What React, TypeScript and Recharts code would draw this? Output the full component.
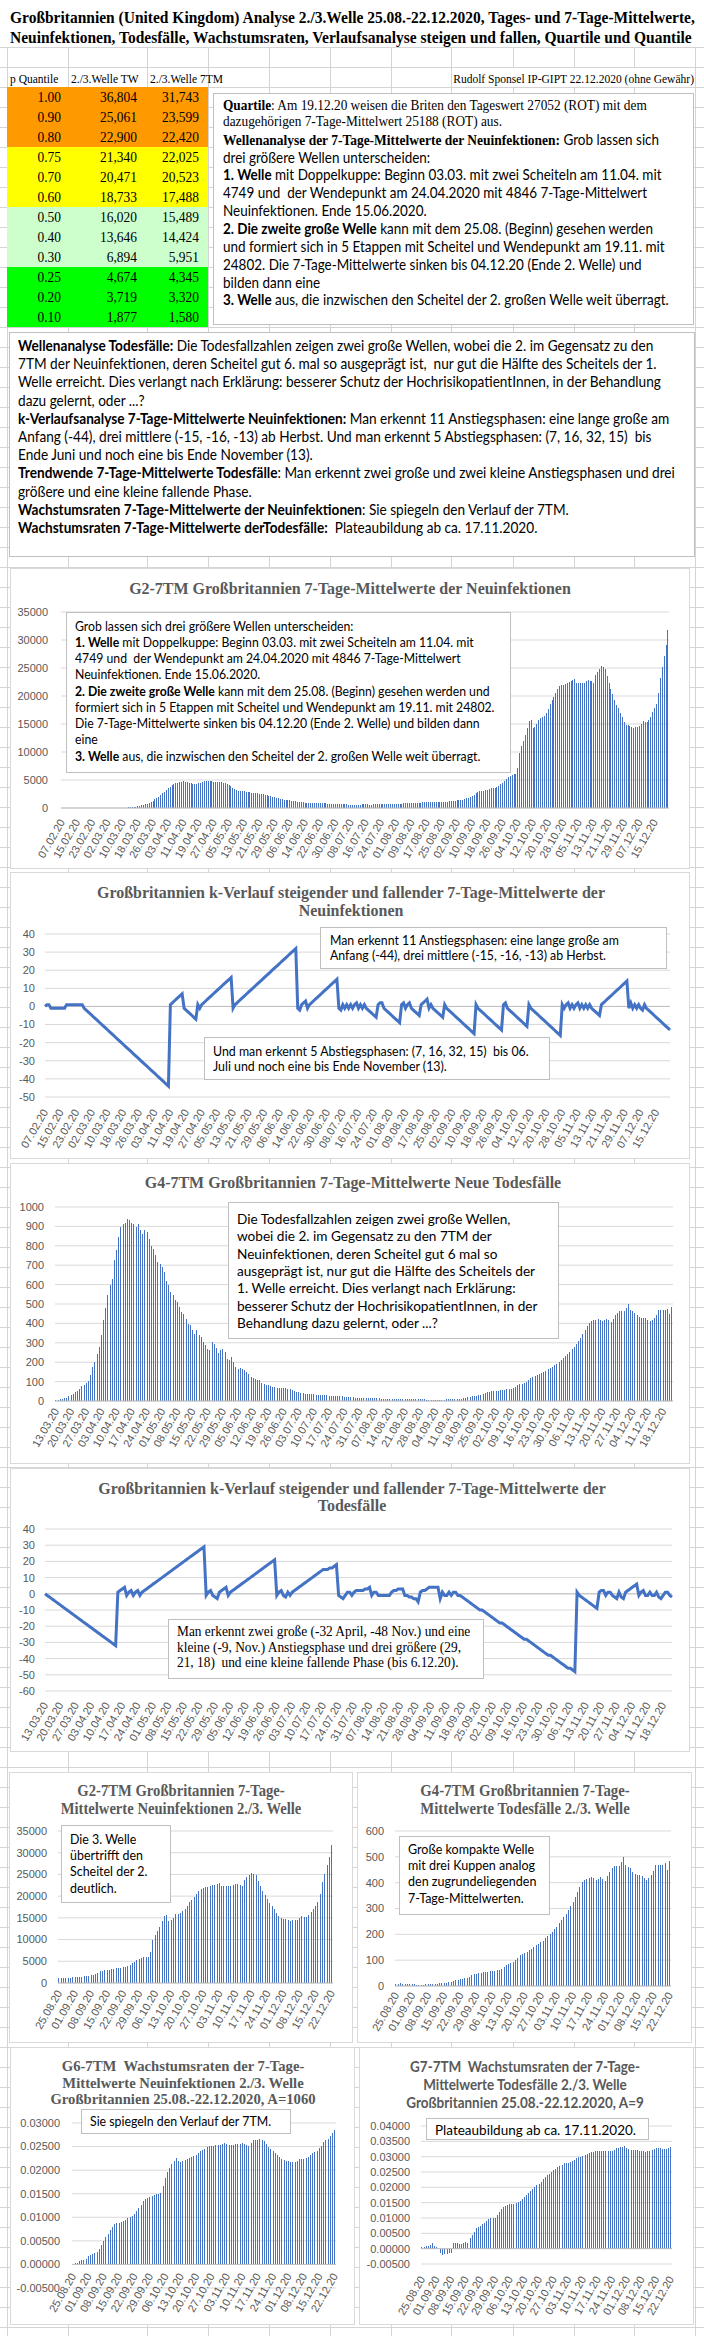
import React from 'react';
import { BarChart, Bar, LineChart, Line, XAxis, YAxis, CartesianGrid, ReferenceLine } from 'recharts';

const SANS = 'Lato, "Liberation Sans", Arial, sans-serif';
const SERIF = '"Liberation Serif", "Times New Roman", serif';
const AXF = '"Liberation Sans", Arial, sans-serif';
const BLUE = '#4472C4';
const GRAYTXT = '#595959';
const GRIDC = '#d9d9d9';

// ---------------- data ----------------
const P_LEVELS = ['1.00', '0.90', '0.80', '0.75', '0.70', '0.60', '0.50', '0.40', '0.30', '0.25', '0.20', '0.10'];
const Q_TW = [36804, 25061, 22900, 21340, 20471, 18733, 16020, 13646, 6894, 4674, 3719, 1877];
const Q_7TM = [31743, 23599, 22420, 22025, 20523, 17488, 15489, 14424, 5951, 4345, 3320, 1580];
const ROW_COLORS = ['#FF9900', '#FF9900', '#FF9900', '#FFFF00', '#FFFF00', '#FFFF00', '#CCFFCC', '#CCFFCC', '#CCFFCC', '#00FF00', '#00FF00', '#00FF00'];

// 7-day means of new infections, 07.02.2020 - 22.12.2020
const CASES7 = [
  0, 0, 0, 0, 0, 1, 1, 1, 1, 1, 1, 1, 1, 1, 1, 1, 1, 1, 1, 2, 2, 3, 4,
  6, 8, 11, 14, 20, 25, 30, 38, 45, 55, 68, 85, 110, 150, 180, 210, 260, 320, 390, 480, 560, 640, 730, 850, 1010, 1250, 1520, 1800, 2050, 2300, 2600,
  2900, 3250, 3550, 3800, 4050, 4250, 4400, 4550, 4650, 4700, 4749, 4700, 4650, 4550, 4450, 4350, 4300, 4350, 4450, 4550, 4650, 4750, 4800, 4846, 4800, 4780, 4700, 4650, 4620, 4600,
  4600, 4550, 4450, 4250, 4050, 3850, 3600, 3400, 3200, 3100, 3050, 3000, 2950, 2900, 2850, 2800, 2750, 2700, 2650, 2600, 2550, 2500, 2450, 2350, 2300, 2200, 2100, 2000, 1900, 1800, 1700,
  1600, 1550, 1500, 1450, 1400, 1350, 1300, 1250, 1200, 1150, 1100, 1050, 1000, 980, 960, 940, 920, 900, 880, 860, 850, 840, 830, 820, 810, 800, 790, 780, 770, 760,
  720, 700, 680, 660, 640, 630, 620, 610, 600, 600, 600, 610, 620, 630, 640, 640, 630, 620, 620, 630, 640, 650, 660, 670, 680, 690, 700, 710, 720, 740, 760,
  780, 790, 800, 800, 810, 830, 850, 870, 880, 890, 900, 920, 950, 980, 1000, 1020, 1040, 1050, 1060, 1070, 1060, 1050, 1040, 1030,
  1050, 1060, 1100, 1150, 1200, 1250, 1280,
  1300, 1350, 1400, 1450, 1500, 1600, 1700, 1850, 1950, 2150, 2400, 2650, 2850, 2950, 3050, 3100, 3200, 3300, 3400, 3500, 3550, 3600, 3700, 3900, 4200, 4500, 4800, 5200, 5500, 5700,
  5900, 6000, 6100, 7200, 9800, 11000, 12000, 13000, 14200, 15500, 15700, 14300, 14500, 15000, 15800, 16000, 16200, 16500, 17000, 17700, 18600, 19200, 19800, 20500, 21200, 21700, 21900, 22000, 22100, 22300, 22500,
  22600, 22900, 23100, 22400, 22300, 22400, 22300, 22400, 22600, 22800, 22700, 22600, 22400, 23800, 24300, 24900, 25300, 25200, 24802, 23600, 22300, 21200, 20300, 19300, 18400, 17800, 17000, 16200, 15400, 14900,
  14800, 14700, 14500, 14300, 14400, 14400, 14600, 15000, 15500, 15300, 15300, 15700, 16300, 17100, 17800, 18600, 20500, 23300, 25188, 27200, 29100, 31743,
];

// k-course of the 7-day means of new infections
const K_CASES = [
  0, 1, 1, -1, -1, -1, -1, -1, -1, -1, -1, 1, 1, 1, 1, 1, 1, 1, 1, 1,
  -1, -2, -3, -4, -5, -6, -7, -8, -9, -10, -11, -12, -13, -14, -15, -16, -17, -18, -19, -20, -21, -22, -23, -24, -25, -26, -27, -28, -29, -30, -31, -32, -33, -34, -35, -36, -37, -38, -39, -40, -41, -42, -43, -44,
  1, 2, 3, 4, 5, 6, 7,
  -1, -2, -3, -4, -5, -6, -7,
  1, -1,
  1, 2, 3, 4, 5, 6, 7, 8, 9, 10, 11, 12, 13, 14, 15, 16,
  -1,
  1, 2, 3, 4, 5, 6, 7, 8, 9, 10, 11, 12, 13, 14, 15, 16, 17, 18, 19, 20, 21, 22, 23, 24, 25, 26, 27, 28, 29, 30, 31, 32,
  -1, -2, 1, 2, 3, -1,
  1, 2, 3, 4, 5, 6, 7, 8, 9, 10, 11, 12, 13, 14, 15,
  -1, -2, 1, -1, 1, -1, 1, -1, 1, 2, -1, 1, -1, 1,
  -1, -2, -3, -4, -5, -6,
  1, 2, 2,
  -1, -2, -3, -4, -5, -6, -7, -8, -9,
  1, 2, -1, 1, 2, -1, -2, -3, -4, -5,
  1, 2, 3, 4,
  -1, 1, -1, -2, -3, -4, -5, -6,
  1,
  -1, -2, -3, -4, -5, -6, -7, -8, -9, -10, -11, -12, -13, -14, -15,
  1,
  -1, -2, -3, -4, -5, -6, -7, -8, -9, -10, -11, -12, -13,
  1, 2,
  -1, -2, -3, -4, -5, -6, -7, -8, -9, -10, -11,
  1,
  -1, -2, -3, -4, -5, -6, -7, -8, -9, -10, -11, -12, -13, -14, -15, -16,
  1, -1, 1, 2, -1, 1, -1, 1, 2, -1, 1, -1, 1, -1, 1, -1,
  -2, -3, -4, -5,
  1, 2, 3, 4, 5, 6, 7, 8, 9, 10, 11, 12, 13, 14,
  -1, 2, -1, 1, -1, 1, -1, -2, 1,
  -1, -2, -3, -4, -5, -6, -7, -8, -9, -10, -11, -12, -13,
];

// 7-day means of deaths, 13.03.2020 - 22.12.2020
const DEATHS7 = [
  5, 7, 8, 9, 14, 18, 25, 32, 38, 45, 52, 62, 75, 84, 95, 103, 132, 175, 200, 244, 278, 342, 416, 481, 545, 596, 627, 725, 776, 845, 897, 914, 920,
  940, 935, 917, 914, 897, 910, 880, 862, 880, 871,
  837, 800, 785, 751, 716, 708, 691, 665, 618, 596,
  562, 545, 519, 510, 484, 457, 450, 424, 398, 390,
  368, 347, 364, 338, 330, 304, 287, 270, 261, 304,
  296, 272, 247, 265, 270, 253, 218, 210, 227, 201,
  175, 167, 168, 167, 160, 150, 137, 124, 118, 112,
  110, 107, 95, 86, 84, 81, 76, 72, 70, 69,
  69, 68, 67, 65, 64, 60, 55, 50, 48, 45,
  43, 40, 38, 37, 36, 35, 34, 33, 32, 31,
  31, 30, 29, 28, 27, 26, 25, 25, 24, 24,
  22, 21, 20, 20, 19, 18, 17, 17,
  16, 15, 15, 14, 14, 14, 13, 13, 13, 12, 12, 12, 12, 11, 11, 11, 11, 11, 10, 10, 10, 10, 10, 10,
  9, 9, 10, 9, 9, 8, 7, 6, 6,
  5, 5, 5, 5, 6,
  7, 8, 9, 9, 9, 10, 10, 11, 12,
  15, 17, 19, 22, 25, 27, 28, 30,
  31, 34, 41, 45, 48, 50, 52, 53, 54, 55,
  57, 58, 60, 61, 63, 66, 74, 80, 86, 90,
  93, 100, 110, 119, 124, 128, 132, 140, 145, 151,
  157, 164, 170, 176, 184, 192, 203, 210, 222, 230,
  242, 255, 268, 280, 294, 310, 326, 345, 365, 385,
  401, 410, 416, 420, 423, 418, 410, 415, 423, 415,
  406, 425, 442, 455, 465, 466, 465, 480, 498, 470,
  462, 455, 442, 435, 429, 428, 427, 420, 410, 420,
  429, 445, 468, 468, 468, 470, 475, 449, 485,
];

// k-course of the 7-day means of deaths
const K_DEATHS = [
  0, -1, -2, -3, -4, -5, -6, -7, -8, -9, -10, -11, -12, -13, -14, -15, -16, -17, -18, -19, -20, -21, -22, -23, -24, -25, -26, -27, -28, -29, -30, -31, -32,
  1, 2, 3, 4, -1, 1, 2, -1, 1, 2, -1,
  1, 2, 3, 4, 5, 6, 7, 8, 9, 10, 11, 12, 13, 14, 15, 16, 17, 18, 19, 20, 21, 22, 23, 24, 25, 26, 27, 28, 29,
  -1, 1, 2, -1, -2, -3, 1, 2, 3, 4, -1,
  1, 2, 3, 4, 5, 6, 7, 8, 9, 10, 11, 12, 13, 14, 15, 16, 17, 18, 19, 20, 21,
  -1, 1, 2, -1, -2, 1, -1,
  1, 2, 3, 4, 5, 6, 7, 8, 9, 10, 11, 12, 13, 14, 15, 15, 15, 16, 16, 17, 18,
  -1, -2, -3, -1, 1, 1, -1, 1, 2, 2, 2, 2, 3, 3, 4, -1, 1, 1, -1, -1, -1, -1, -1, -1, 1, 2, 2, 3, 3, 3, -1, -1, -2, -2, -3, -3, -5, 1, 2, 2, 3, 4, 4, 4, 4, 4, -3, 1, -1, -1, 1, -1, 1, 1, -1,
  -1, -2, -3, -4, -5, -6, -7, -8, -9, -10, -10, -11, -12, -13, -14, -15, -16, -17, -18, -18, -19, -20, -21, -22, -23, -24, -25, -26, -27, -28, -28, -29, -30, -31, -32, -33, -34, -35, -36, -37, -38, -38, -39, -40, -41, -42, -43, -44, -45, -46, -46, -47, -48,
  1,
  -1, -2, -3, -4, -5, -6, -7, -8, -9,
  1, 2, 2, -1, 1, 1, -1, -2, -3, 1, -2, -3, 1, 2, 3, 4, 5, 6, -1, 1, 2, -1, -1, 1, -1, -1, 1, -2, -3, -1, 1, 1, -1, -2,
];

// growth rates 25.08.2020 - 22.12.2020
const GROWTH_CASES = [
  0.0001, 0.0003, 0.0004, 0.0008, 0.0009, 0.001, 0.0012, 0.0018, 0.002, 0.0022,
  0.0025, 0.0027, 0.0033, 0.0042, 0.005, 0.0058, 0.0065, 0.0072, 0.0079, 0.0085,
  0.0088, 0.0088, 0.0089, 0.0093, 0.0095, 0.0098, 0.01, 0.0103, 0.0107, 0.0114,
  0.012, 0.0126, 0.0134, 0.0138, 0.014, 0.0142, 0.0146, 0.0147, 0.0149, 0.015,
  0.0152, 0.0167, 0.0184, 0.0196, 0.0205, 0.0212, 0.022, 0.0225, 0.0219, 0.0218,
  0.0219, 0.0222, 0.0224, 0.0226, 0.0228, 0.023, 0.0233, 0.0237, 0.024, 0.0243,
  0.0245, 0.0249, 0.0251, 0.0252, 0.0252, 0.0253, 0.0254, 0.0254, 0.0255, 0.0257,
  0.0256, 0.0254, 0.0254, 0.0254, 0.0255, 0.0255, 0.0256, 0.0257, 0.0256, 0.0254,
  0.0252, 0.0258, 0.0263, 0.0264, 0.0265, 0.0266, 0.0265, 0.0262, 0.0256, 0.025,
  0.0245, 0.0241, 0.0237, 0.0232, 0.0228, 0.0224, 0.0221, 0.022, 0.0219, 0.0218,
  0.0217, 0.0218, 0.022, 0.0223, 0.0224, 0.0224, 0.0226, 0.0228, 0.0232, 0.0236,
  0.0238, 0.024, 0.0248, 0.0252, 0.0259, 0.0264, 0.0266, 0.0273, 0.0279, 0.0285,
];
const GROWTH_DEATHS = [
  0.0004, 0.0007, 0.0008, 0.0009, 0.0012, 0.0017, 0.0009, 0.0007, -0.0002, -0.0015,
  -0.0021, -0.0017, -0.0016, -0.0015, -0.0013, 0.002, 0.002, 0.0017, 0.0016, 0.0015,
  0.002, 0.0023, 0.0017, 0.0034, 0.0045, 0.0055, 0.0066, 0.0072, 0.0075, 0.0079,
  0.0085, 0.009, 0.0096, 0.01, 0.0101, 0.0101, 0.011, 0.0121, 0.013, 0.0135,
  0.014, 0.0143, 0.0146, 0.0146, 0.0146, 0.0148, 0.0152, 0.0156, 0.0161, 0.0168,
  0.0175, 0.0182, 0.0189, 0.0196, 0.0202, 0.0207, 0.0211, 0.0218, 0.0228, 0.0235,
  0.024, 0.0244, 0.0249, 0.0255, 0.026, 0.0265, 0.027, 0.0274, 0.028, 0.028,
  0.028, 0.0283, 0.0287, 0.029, 0.0295, 0.0298, 0.03, 0.0302, 0.0305, 0.0309,
  0.0311, 0.0314, 0.0316, 0.0318, 0.0318, 0.0319, 0.0318, 0.0318, 0.0317, 0.0318,
  0.0318, 0.032, 0.0323, 0.0327, 0.0328, 0.033, 0.0333, 0.0335, 0.0328, 0.0324,
  0.0323, 0.0322, 0.0322, 0.0321, 0.032, 0.032, 0.0318, 0.0316, 0.0318, 0.032,
  0.0322, 0.0325, 0.0327, 0.0327, 0.0327, 0.0326, 0.0326, 0.0325, 0.0327, 0.033,
];

const TICKS_FULL = ['07.02.20', '15.02.20', '23.02.20', '02.03.20', '10.03.20', '18.03.20', '26.03.20', '03.04.20', '11.04.20', '19.04.20', '27.04.20', '05.05.20', '13.05.20', '21.05.20', '29.05.20', '06.06.20', '14.06.20', '22.06.20', '30.06.20', '08.07.20', '16.07.20', '24.07.20', '01.08.20', '09.08.20', '17.08.20', '25.08.20', '02.09.20', '10.09.20', '18.09.20', '26.09.20', '04.10.20', '12.10.20', '20.10.20', '28.10.20', '05.11.20', '13.11.20', '21.11.20', '29.11.20', '07.12.20', '15.12.20'];
const TICKS_DEATH = ['13.03.20', '20.03.20', '27.03.20', '03.04.20', '10.04.20', '17.04.20', '24.04.20', '01.05.20', '08.05.20', '15.05.20', '22.05.20', '29.05.20', '05.06.20', '12.06.20', '19.06.20', '26.06.20', '03.07.20', '10.07.20', '17.07.20', '24.07.20', '31.07.20', '07.08.20', '14.08.20', '21.08.20', '28.08.20', '04.09.20', '11.09.20', '18.09.20', '25.09.20', '02.10.20', '09.10.20', '16.10.20', '23.10.20', '30.10.20', '06.11.20', '13.11.20', '20.11.20', '27.11.20', '04.12.20', '11.12.20', '18.12.20'];
const TICKS_WAVE = ['25.08.20', '01.09.20', '08.09.20', '15.09.20', '22.09.20', '29.09.20', '06.10.20', '13.10.20', '20.10.20', '27.10.20', '03.11.20', '10.11.20', '17.11.20', '24.11.20', '01.12.20', '08.12.20', '15.12.20', '22.12.20'];

const Y_CASES = [0, 5000, 10000, 15000, 20000, 25000, 30000, 35000];
const Y_KC = [-50, -40, -30, -20, -10, 0, 10, 20, 30, 40];
const Y_DEATHS = [0, 100, 200, 300, 400, 500, 600, 700, 800, 900, 1000];
const Y_KD = [-60, -50, -40, -30, -20, -10, 0, 10, 20, 30, 40];
const Y_DEATHS_W = [0, 100, 200, 300, 400, 500, 600];
const Y_GC = [-0.005, 0, 0.005, 0.01, 0.015, 0.02, 0.025, 0.03];
const Y_GD = [-0.005, 0, 0.005, 0.01, 0.015, 0.02, 0.025, 0.03, 0.035, 0.04];

function dayLabels(y: number, m: number, d: number, n: number): string[] {
  const out: string[] = [];
  for (let i = 0; i < n; i++) {
    const dt = new Date(Date.UTC(y, m - 1, d + i));
    const dd = String(dt.getUTCDate()).padStart(2, '0');
    const mm = String(dt.getUTCMonth() + 1).padStart(2, '0');
    out.push(`${dd}.${mm}.${String(dt.getUTCFullYear()).slice(2)}`);
  }
  return out;
}
const CASE_DATES = dayLabels(2020, 2, 7, 320);
const DEATH_DATES = dayLabels(2020, 3, 13, 285);
const WAVE_DATES = dayLabels(2020, 8, 25, 120);

const caseData = CASE_DATES.map((d, i) => ({ d, v: CASES7[i], k: K_CASES[i] }));
const deathData = DEATH_DATES.map((d, i) => ({ d, v: DEATHS7[i], k: K_DEATHS[i] }));
const waveCases = WAVE_DATES.map((d, i) => ({ d, v: CASES7[200 + i], g: GROWTH_CASES[i] }));
const waveDeaths = WAVE_DATES.map((d, i) => ({ d, v: DEATHS7[165 + i], g: GROWTH_DEATHS[i] }));

// ---------------- helpers ----------------
let CTX: CanvasRenderingContext2D | null = null;
function fit(ref: string, size: number, family: string, weight: string, target: number): number {
  if (typeof document === 'undefined') return 1;
  if (!CTX) CTX = document.createElement('canvas').getContext('2d');
  if (!CTX) return 1;
  CTX.font = `${weight} ${size}px ${family}`;
  const w = CTX.measureText(ref).width;
  return w > 0 ? target / w : 1;
}

const fmt = (n: number) => String(n).replace(/\B(?=(\d{3})+(?!\d))/g, ',');

const Txt = ({ x, y, size, family, weight = 'normal', scale = 1, align = 'left', color = '#000', children }: any) => {
  const h = Math.round(size * 1.3);
  const w = 1400;
  const left = align === 'left' ? x : align === 'center' ? x - w / 2 : x - w;
  const origin = align === 'left' ? 'left center' : align === 'center' ? 'center center' : 'right center';
  return (
    <div style={{ position: 'absolute', left, top: y - h / 2, width: w, height: h, lineHeight: `${h}px`, fontSize: size, fontFamily: family, fontWeight: weight, color, whiteSpace: 'pre', textAlign: align, transform: `scaleX(${scale})`, transformOrigin: origin }}>
      {children}
    </div>
  );
};

const Lines = ({ x, ys, lines, ...rest }: any) => (
  <>
    {lines.map((ln: any, i: number) => (
      <Txt key={i} x={x} y={ys[i]} {...rest}>{ln}</Txt>
    ))}
  </>
);

const Frame = ({ x, y, w, h, border = '#d9d9d9', children }: any) => (
  <div style={{ position: 'absolute', left: x, top: y, width: w, height: h, boxSizing: 'border-box', border: `1px solid ${border}`, background: '#fff' }}>
    {children ? <div style={{ position: 'absolute', left: -1, top: -1 }}>{children}</div> : null}
  </div>
);

const RotTick = (props: any) => {
  const { x, y, payload, shift = 0 } = props;
  const yy = y + shift;
  return (
    <text x={x} y={yy} transform={`rotate(-60 ${x} ${yy})`} textAnchor="end" dominantBaseline="central" fontSize={11} fontFamily={AXF} fill={GRAYTXT}>
      {payload.value}
    </text>
  );
};

const CrispBar = (p: any) => {
  const { x, y, width, height } = p;
  if (x == null || y == null || !height) return <g />;
  const yy = height < 0 ? y + height : y;
  return <rect x={x} y={yy} width={Math.max(width, 1)} height={Math.abs(height)} fill={BLUE} shapeRendering="crispEdges" />;
};
const barShape = (p: any) => <CrispBar {...p} />;

const yTick = { fontSize: 11, fill: GRAYTXT, fontFamily: AXF };
const range = (a: number, n: number, s: number) => Array.from({ length: n }, (_, i) => a + i * s);

const B = ({ children }: any) => <b>{children}</b>;

// ---------------- app ----------------
export default function App() {
  const gridX = [7, 68, 147, 208, 269, 330, 391, 451, 513, 574, 634, 695];
  const gridY: number[] = [];
  for (let y = 47; y < 2336; y += 20) gridY.push(y);

  const title1 = 'Großbritannien (United Kingdom) Analyse 2./3.Welle 25.08.-22.12.2020, Tages- und 7-Tage-Mittelwerte,';
  const title2 = 'Neuinfektionen, Todesfälle, Wachstumsraten, Verlaufsanalyse steigen und fallen, Quartile und Quantile';
  const sTitle = fit(title1, 16, SERIF, 'bold', 686);
  const sHead = fit('Rudolf Sponsel IP-GIPT 22.12.2020 (ohne Gewähr)', 13, SERIF, 'normal', 241);
  const sVal = fit('36,804', 15, SERIF, 'normal', 37);

  const sQSerif = fit('dazugehörigen 7-Tage-Mittelwert 25188 (ROT) aus.', 14, SERIF, 'normal', 279);
  const sQSans = fit('4749 und  der Wendepunkt am 24.04.2020 mit 4846 7-Tage-Mittelwert', 14.67, SANS, 'normal', 424.5);
  const sS2 = fit('Welle erreicht. Dies verlangt nach Erklärung: besserer Schutz der HochrisikopatientInnen, in der Behandlung', 14.67, SANS, 'normal', 644);
  const sG2box = fit('4749 und  der Wendepunkt am 24.04.2020 mit 4846 7-Tage-Mittelwert', 13.3, SANS, 'normal', 386);
  const sK1 = fit('Anfang (-44), drei mittlere (-15, -16, -13) ab Herbst.', 13, SANS, 'normal', 276);
  const sK2 = fit('Juli und noch eine bis Ende November (13).', 13, SANS, 'normal', 234);
  const sG4box = fit('Die Todesfallzahlen zeigen zwei große Wellen,', 14.3, SANS, 'normal', 274);
  const sKD = fit('Man erkennt zwei große (-32 April, -48 Nov.) und eine', 14, SERIF, 'normal', 294);
  const sSG2 = fit('übertrifft den', 13.4, SANS, 'normal', 73);
  const sSG4 = fit('mit drei Kuppen analog', 13.4, SANS, 'normal', 127);
  const sG6box = fit('Sie spiegeln den Verlauf der 7TM.', 13.4, SANS, 'normal', 182);
  const sG7box = fit('Plateaubildung ab ca. 17.11.2020.', 14, SANS, 'normal', 201);

  const tG2 = 'G2-7TM Großbritannien 7-Tage-Mittelwerte der Neuinfektionen';
  const tK1a = 'Großbritannien k-Verlauf steigender und fallender 7-Tage-Mittelwerte der';
  const tG4 = 'G4-7TM Großbritannien 7-Tage-Mittelwerte Neue Todesfälle';
  const sTG2 = fit(tG2, 16, SERIF, 'bold', 442);
  const sTK1 = fit(tK1a, 16, SERIF, 'bold', 508.6);
  const sTG4 = fit(tG4, 16, SERIF, 'bold', 416.7);
  const sTK2 = fit(tK1a, 16, SERIF, 'bold', 508);
  const sTSG2 = fit('Mittelwerte Neuinfektionen 2./3. Welle', 16, SERIF, 'bold', 241);
  const sTSG4 = fit('Mittelwerte Todesfälle 2./3. Welle', 16, SERIF, 'bold', 210);
  const sTG6 = fit('Großbritannien 25.08.-22.12.2020, A=1060', 14.5, SERIF, 'bold', 266);
  const sTG7 = fit('Großbritannien 25.08.-22.12.2020, A=9', 15, SANS, 'bold', 238);

  const serifB = (t: string) => <span style={{ fontFamily: SERIF, fontWeight: 'bold' }}>{t}</span>;

  return (
    <div style={{ position: 'absolute', left: 0, top: 0, width: 704, height: 2336, overflow: 'hidden', background: '#fff', fontFamily: SANS }}>
      {/* spreadsheet grid */}
      <svg width={704} height={2336} style={{ position: 'absolute', left: 0, top: 0 }}>
        {gridX.map((x) => (
          <line key={'gx' + x} x1={x + 0.5} x2={x + 0.5} y1={47} y2={2336} stroke="#d4d4d4" />
        ))}
        {gridY.map((y) => (
          <line key={'gy' + y} x1={0} x2={704} y1={y + 0.5} y2={y + 0.5} stroke="#d4d4d4" />
        ))}
      </svg>

      {/* header title */}
      <Txt x={10} y={17} size={16} family={SERIF} weight="bold" scale={sTitle}>{title1}</Txt>
      <Txt x={10} y={37.5} size={16} family={SERIF} weight="bold" scale={sTitle}>{title2}</Txt>

      {/* table header row */}
      <div style={{ position: 'absolute', left: 452, top: 68, width: 242, height: 19, background: '#fff' }} />
      <Txt x={10} y={78} size={13} family={SERIF} scale={sHead}>p Quantile</Txt>
      <Txt x={71} y={78} size={13} family={SERIF} scale={sHead}>2./3.Welle TW</Txt>
      <Txt x={150} y={78} size={13} family={SERIF} scale={sHead}>2./3.Welle 7TM</Txt>
      <Txt x={694} y={78} size={13} family={SERIF} scale={sHead} align="right">Rudolf Sponsel IP-GIPT 22.12.2020 (ohne Gewähr)</Txt>

      {/* quantile table */}
      {P_LEVELS.map((p, i) => (
        <div key={'row' + i} style={{ position: 'absolute', left: 7, top: 87 + i * 20, width: 201, height: 20, background: ROW_COLORS[i] }} />
      ))}
      {P_LEVELS.map((p, i) => (
        <React.Fragment key={'rv' + i}>
          <Txt x={61} y={97 + i * 20} size={15} family={SERIF} scale={sVal} align="right">{p}</Txt>
          <Txt x={137} y={97 + i * 20} size={15} family={SERIF} scale={sVal} align="right">{fmt(Q_TW[i])}</Txt>
          <Txt x={199} y={97 + i * 20} size={15} family={SERIF} scale={sVal} align="right">{fmt(Q_7TM[i])}</Txt>
        </React.Fragment>
      ))}

      {/* quartile text box */}
      <Frame x={213} y={93} w={481} h={232} border="#bfbfbf" />
      <Lines x={223} ys={[106, 122]} size={14} family={SERIF} scale={sQSerif} lines={[
        [<B key="a">Quartile</B>, ': Am 19.12.20 weisen die Briten den Tageswert 27052 (ROT) mit dem'],
        'dazugehörigen 7-Tage-Mittelwert 25188 (ROT) aus.',
      ]} />
      <Lines x={223} ys={[139, 157, 174, 192, 210, 228, 246, 264, 282, 299]} size={14.67} family={SANS} scale={sQSans} lines={[
        [<React.Fragment key="a">{serifB('Wellenanalyse der 7-Tage-Mittelwerte der Neuinfektionen:')}</React.Fragment>, ' Grob lassen sich'],
        'drei größere Wellen unterscheiden:',
        [<B key="a">1. Welle</B>, ' mit Doppelkuppe: Beginn 03.03. mit zwei Scheiteln am 11.04. mit'],
        '4749 und  der Wendepunkt am 24.04.2020 mit 4846 7-Tage-Mittelwert',
        'Neuinfektionen. Ende 15.06.2020.',
        [<B key="a">2. Die zweite große Welle</B>, ' kann mit dem 25.08. (Beginn) gesehen werden'],
        'und formiert sich in 5 Etappen mit Scheitel und Wendepunkt am 19.11. mit',
        '24802. Die 7-Tage-Mittelwerte sinken bis 04.12.20 (Ende 2. Welle) und',
        'bilden dann eine',
        [<B key="a">3. Welle</B>, ' aus, die inzwischen den Scheitel der 2. großen Welle weit überragt.'],
      ]} />

      {/* section 2 text box */}
      <Frame x={9} y={332} w={686} h={225} border="#bfbfbf" />
      <Lines x={18} ys={range(345.5, 11, 18.2)} size={14.67} family={SANS} scale={sS2} lines={[
        [<B key="a">Wellenanalyse Todesfälle:</B>, ' Die Todesfallzahlen zeigen zwei große Wellen, wobei die 2. im Gegensatz zu den'],
        '7TM der Neuinfektionen, deren Scheitel gut 6. mal so ausgeprägt ist,  nur gut die Hälfte des Scheitels der 1.',
        'Welle erreicht. Dies verlangt nach Erklärung: besserer Schutz der HochrisikopatientInnen, in der Behandlung',
        'dazu gelernt, oder ...?',
        [<B key="a">k-Verlaufsanalyse 7-Tage-Mittelwerte Neuinfektionen:</B>, ' Man erkennt 11 Anstiegsphasen: eine lange große am'],
        'Anfang (-44), drei mittlere (-15, -16, -13) ab Herbst. Und man erkennt 5 Abstiegsphasen: (7, 16, 32, 15)  bis',
        'Ende Juni und noch eine bis Ende November (13).',
        [<B key="a">Trendwende 7-Tage-Mittelwerte Todesfälle</B>, ': Man erkennt zwei große und zwei kleine Anstiegsphasen und drei'],
        'größere und eine kleine fallende Phase.',
        [<B key="a">Wachstumsraten 7-Tage-Mittelwerte der Neuinfektionen</B>, ': Sie spiegeln den Verlauf der 7TM.'],
        [<B key="a">Wachstumsraten 7-Tage-Mittelwerte derTodesfälle:</B>, '  Plateaubildung ab ca. 17.11.2020.'],
      ]} />

      {/* G2 big chart */}
      <Frame x={10} y={568} w={680} h={301}>
        <BarChart width={680} height={301} data={caseData} margin={{ top: 44, right: 21, bottom: 0, left: 0 }} barCategoryGap="20%" barGap={0}>
          <CartesianGrid vertical={false} stroke={GRIDC} />
          <XAxis dataKey="d" ticks={TICKS_FULL} interval={0} height={61} tick={<RotTick />} tickLine={false} tickSize={0} tickMargin={12} axisLine={{ stroke: '#bfbfbf' }} />
          <YAxis width={51} domain={[0, 35000]} ticks={Y_CASES} interval={0} tick={yTick} tickLine={false} axisLine={false} tickSize={0} tickMargin={13} />
          <Bar dataKey="v" fill={BLUE} shape={barShape} isAnimationActive={false} />
        </BarChart>
      </Frame>
      <Txt x={350} y={588} size={16} family={SERIF} weight="bold" color={GRAYTXT} align="center" scale={sTG2}>{tG2}</Txt>
      <Frame x={66} y={612} w={445} h={161} border="#bfbfbf" />
      <Lines x={75} ys={range(626, 9, 16.25)} size={13.3} family={SANS} scale={sG2box} lines={[
        'Grob lassen sich drei größere Wellen unterscheiden:',
        [<B key="a">1. Welle</B>, ' mit Doppelkuppe: Beginn 03.03. mit zwei Scheiteln am 11.04. mit'],
        '4749 und  der Wendepunkt am 24.04.2020 mit 4846 7-Tage-Mittelwert',
        'Neuinfektionen. Ende 15.06.2020.',
        [<B key="a">2. Die zweite große Welle</B>, ' kann mit dem 25.08. (Beginn) gesehen werden und'],
        'formiert sich in 5 Etappen mit Scheitel und Wendepunkt am 19.11. mit 24802.',
        'Die 7-Tage-Mittelwerte sinken bis 04.12.20 (Ende 2. Welle) und bilden dann',
        'eine',
        [<B key="a">3. Welle</B>, ' aus, die inzwischen den Scheitel der 2. großen Welle weit überragt.'],
      ]} />

      {/* k-course new infections */}
      <Frame x={10} y={872} w={680} h={287}>
        <LineChart width={680} height={287} data={caseData} margin={{ top: 62, right: 20, bottom: 0, left: 0 }}>
          <CartesianGrid vertical={false} stroke={GRIDC} />
          <XAxis dataKey="d" ticks={TICKS_FULL} interval={0} height={62} tick={<RotTick />} tickLine={false} tickSize={0} tickMargin={13} axisLine={false} />
          <YAxis width={35} domain={[-50, 40]} ticks={Y_KC} interval={0} tick={yTick} tickLine={false} axisLine={false} tickSize={0} tickMargin={10} />
          <ReferenceLine y={0} stroke="#bfbfbf" />
          <Line type="linear" dataKey="k" stroke={BLUE} strokeWidth={3} dot={false} isAnimationActive={false} />
        </LineChart>
      </Frame>
      <Txt x={351} y={892} size={16} family={SERIF} weight="bold" color={GRAYTXT} align="center" scale={sTK1}>{tK1a}</Txt>
      <Txt x={351} y={910} size={16} family={SERIF} weight="bold" color={GRAYTXT} align="center" scale={sTK1}>Neuinfektionen</Txt>
      <Frame x={320} y={927} w={347} h={42} border="#bfbfbf" />
      <Lines x={330} ys={[940, 955.7]} size={13} family={SANS} scale={sK1} lines={[
        'Man erkennt 11 Anstiegsphasen: eine lange große am',
        'Anfang (-44), drei mittlere (-15, -16, -13) ab Herbst.',
      ]} />
      <Frame x={204} y={1037} w={346} h={43} border="#bfbfbf" />
      <Lines x={213} ys={[1051, 1066.7]} size={13} family={SANS} scale={sK2} lines={[
        'Und man erkennt 5 Abstiegsphasen: (7, 16, 32, 15)  bis 06.',
        'Juli und noch eine bis Ende November (13).',
      ]} />

      {/* G4 big chart */}
      <Frame x={10} y={1163} w={680} h={301}>
        <BarChart width={680} height={301} data={deathData} margin={{ top: 44, right: 17, bottom: 0, left: 0 }} barCategoryGap="20%" barGap={0}>
          <CartesianGrid vertical={false} stroke={GRIDC} />
          <XAxis dataKey="d" ticks={TICKS_DEATH} interval={0} height={63} tick={<RotTick />} tickLine={false} tickSize={0} tickMargin={8} axisLine={{ stroke: '#bfbfbf' }} />
          <YAxis width={45} domain={[0, 1000]} ticks={Y_DEATHS} interval={0} tick={yTick} tickLine={false} axisLine={false} tickSize={0} tickMargin={11} />
          <Bar dataKey="v" fill={BLUE} shape={barShape} isAnimationActive={false} />
        </BarChart>
      </Frame>
      <Txt x={353} y={1182} size={16} family={SERIF} weight="bold" color={GRAYTXT} align="center" scale={sTG4}>{tG4}</Txt>
      <Frame x={228} y={1202} w={331} h={137} border="#bfbfbf" />
      <Lines x={237} ys={range(1218.3, 7, 17.4)} size={14.3} family={SANS} scale={sG4box} lines={[
        'Die Todesfallzahlen zeigen zwei große Wellen,',
        'wobei die 2. im Gegensatz zu den 7TM der',
        'Neuinfektionen, deren Scheitel gut 6 mal so',
        'ausgeprägt ist, nur gut die Hälfte des Scheitels der',
        '1. Welle erreicht. Dies verlangt nach Erklärung:',
        'besserer Schutz der HochrisikopatientInnen, in der',
        'Behandlung dazu gelernt, oder ...?',
      ]} />

      {/* k-course deaths */}
      <Frame x={10} y={1468} w={680} h={284}>
        <LineChart width={680} height={284} data={deathData} margin={{ top: 61, right: 18, bottom: 0, left: 0 }}>
          <CartesianGrid vertical={false} stroke={GRIDC} />
          <XAxis dataKey="d" ticks={TICKS_DEATH} interval={0} height={61} tick={<RotTick />} tickLine={false} tickSize={0} tickMargin={12} axisLine={false} />
          <YAxis width={35} domain={[-60, 40]} ticks={Y_KD} interval={0} tick={yTick} tickLine={false} axisLine={false} tickSize={0} tickMargin={10} />
          <ReferenceLine y={0} stroke="#bfbfbf" />
          <Line type="linear" dataKey="k" stroke={BLUE} strokeWidth={3} dot={false} isAnimationActive={false} />
        </LineChart>
      </Frame>
      <Txt x={352} y={1488} size={16} family={SERIF} weight="bold" color={GRAYTXT} align="center" scale={sTK2}>{tK1a}</Txt>
      <Txt x={352} y={1505} size={16} family={SERIF} weight="bold" color={GRAYTXT} align="center" scale={sTK2}>Todesfälle</Txt>
      <Frame x={168} y={1619} w={316} h={60} border="#bfbfbf" />
      <Lines x={177} ys={[1631.7, 1647.7, 1663.3]} size={14} family={SERIF} scale={sKD} lines={[
        'Man erkennt zwei große (-32 April, -48 Nov.) und eine',
        'kleine (-9, Nov.) Anstiegsphase und drei größere (29,',
        '21, 18)  und eine kleine fallende Phase (bis 6.12.20).',
      ]} />

      {/* small G2 */}
      <Frame x={9} y={1772} w={344} h={271}>
        <BarChart width={344} height={271} data={waveCases} margin={{ top: 59, right: 20, bottom: 0, left: 0 }} barCategoryGap="20%" barGap={0}>
          <CartesianGrid vertical={false} stroke={GRIDC} />
          <XAxis dataKey="d" ticks={TICKS_WAVE} interval={0} height={60} tick={<RotTick />} tickLine={false} tickSize={0} tickMargin={8} axisLine={{ stroke: '#bfbfbf' }} />
          <YAxis width={49} domain={[0, 35000]} ticks={Y_CASES} interval={0} tick={yTick} tickLine={false} axisLine={false} tickSize={0} tickMargin={11} />
          <Bar dataKey="v" fill={BLUE} shape={barShape} isAnimationActive={false} />
        </BarChart>
      </Frame>
      <Txt x={181} y={1790} size={16} family={SERIF} weight="bold" color={GRAYTXT} align="center" scale={sTSG2}>G2-7TM Großbritannien 7-Tage-</Txt>
      <Txt x={181} y={1808} size={16} family={SERIF} weight="bold" color={GRAYTXT} align="center" scale={sTSG2}>Mittelwerte Neuinfektionen 2./3. Welle</Txt>
      <Frame x={61} y={1825} w={110} h={78} border="#bfbfbf" />
      <Lines x={70} ys={range(1839, 4, 16.4)} size={13.4} family={SANS} scale={sSG2} lines={[
        'Die 3. Welle',
        'übertrifft den',
        'Scheitel der 2.',
        'deutlich.',
      ]} />

      {/* small G4 */}
      <Frame x={357} y={1772} w={335} h={271}>
        <BarChart width={335} height={271} data={waveDeaths} margin={{ top: 59, right: 21, bottom: 0, left: 0 }} barCategoryGap="20%" barGap={0}>
          <CartesianGrid vertical={false} stroke={GRIDC} />
          <XAxis dataKey="d" ticks={TICKS_WAVE} interval={0} height={57} tick={<RotTick />} tickLine={false} tickSize={0} tickMargin={7} axisLine={{ stroke: '#bfbfbf' }} />
          <YAxis width={38} domain={[0, 600]} ticks={Y_DEATHS_W} interval={0} tick={yTick} tickLine={false} axisLine={false} tickSize={0} tickMargin={11} />
          <Bar dataKey="v" fill={BLUE} shape={barShape} isAnimationActive={false} />
        </BarChart>
      </Frame>
      <Txt x={525} y={1790} size={16} family={SERIF} weight="bold" color={GRAYTXT} align="center" scale={sTSG4}>G4-7TM Großbritannien 7-Tage-</Txt>
      <Txt x={525} y={1808} size={16} family={SERIF} weight="bold" color={GRAYTXT} align="center" scale={sTSG4}>Mittelwerte Todesfälle 2./3. Welle</Txt>
      <Frame x={399} y={1836} w={151} h={79} border="#bfbfbf" />
      <Lines x={408} ys={range(1849, 4, 16.4)} size={13.4} family={SANS} scale={sSG4} lines={[
        'Große kompakte Welle',
        'mit drei Kuppen analog',
        'den zugrundeliegenden',
        '7-Tage-Mittelwerten.',
      ]} />

      {/* G6 growth cases */}
      <Frame x={10} y={2047} w={345} h={278}>
        <BarChart width={345} height={278} data={waveCases} margin={{ top: 76, right: 19, bottom: 0, left: 0 }} barCategoryGap="20%" barGap={0}>
          <CartesianGrid vertical={false} stroke={GRIDC} />
          <XAxis dataKey="d" ticks={TICKS_WAVE} interval={0} height={37} tick={<RotTick shift={-14} />} tickLine={false} tickSize={0} tickMargin={0} axisLine={false} />
          <YAxis width={62} domain={[-0.005, 0.03]} ticks={Y_GC} interval={0} tick={yTick} tickFormatter={(v: number) => v.toFixed(5)} tickLine={false} axisLine={false} tickSize={0} tickMargin={12} />
          <ReferenceLine y={0} stroke="#bfbfbf" />
          <Bar dataKey="g" fill={BLUE} shape={barShape} isAnimationActive={false} />
        </BarChart>
      </Frame>
      <Lines x={182.5} ys={[2066, 2083.3, 2099.3]} size={14.5} family={SERIF} weight="bold" color={GRAYTXT} align="center" scale={sTG6} lines={[
        'G6-7TM  Wachstumsraten der 7-Tage-',
        'Mittelwerte Neuinfektionen 2./3. Welle',
        'Großbritannien 25.08.-22.12.2020, A=1060',
      ]} />
      <Frame x={81} y={2109} w={210} h={25} border="#bfbfbf" />
      <Txt x={90} y={2121.5} size={13.4} family={SANS} scale={sG6box}>Sie spiegeln den Verlauf der 7TM.</Txt>

      {/* G7 growth deaths */}
      <Frame x={359} y={2047} w={335} h={278}>
        <BarChart width={335} height={278} data={waveDeaths} margin={{ top: 79, right: 22, bottom: 0, left: 0 }} barCategoryGap="20%" barGap={0}>
          <CartesianGrid vertical={false} stroke={GRIDC} />
          <XAxis dataKey="d" ticks={TICKS_WAVE} interval={0} height={61} tick={<RotTick />} tickLine={false} tickSize={0} tickMargin={13} axisLine={false} />
          <YAxis width={62} domain={[-0.005, 0.04]} ticks={Y_GD} interval={0} tick={yTick} tickFormatter={(v: number) => v.toFixed(5)} tickLine={false} axisLine={false} tickSize={0} tickMargin={11} />
          <ReferenceLine y={0} stroke="#bfbfbf" />
          <Bar dataKey="g" fill={BLUE} shape={barShape} isAnimationActive={false} />
        </BarChart>
      </Frame>
      <Lines x={525.4} ys={[2066, 2084, 2101.7]} size={15} family={SANS} weight="bold" color={GRAYTXT} align="center" scale={sTG7} lines={[
        'G7-7TM  Wachstumsraten der 7-Tage-',
        'Mittelwerte Todesfälle 2./3. Welle',
        'Großbritannien 25.08.-22.12.2020, A=9',
      ]} />
      <Frame x={426} y={2118} w={223} h={22} border="#bfbfbf" />
      <Txt x={435} y={2130} size={14} family={SANS} scale={sG7box}>Plateaubildung ab ca. 17.11.2020.</Txt>
    </div>
  );
}
